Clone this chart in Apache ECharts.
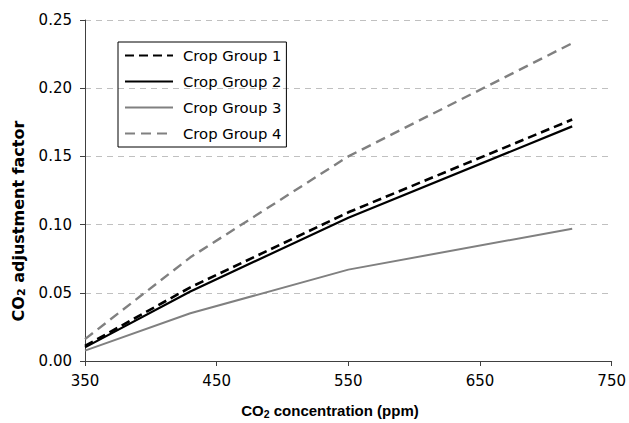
<!DOCTYPE html>
<html>
<head>
<meta charset="utf-8">
<script src="https://cdn.jsdelivr.net/npm/echarts@6/dist/echarts.min.js"></script>
<style>html,body{margin:0;padding:0;background:#fff}#c{width:629px;height:423px}</style>
</head>
<body>
<div id="c"></div>
<script>
// Data
const xValues = [350, 430, 550, 720];
const cropGroup1 = [0.011, 0.054, 0.109, 0.177];
const cropGroup2 = [0.010, 0.051, 0.105, 0.172];
const cropGroup3 = [0.0076, 0.035, 0.067, 0.097];
const cropGroup4 = [0.016, 0.076, 0.150, 0.233];
const seriesNames = ['Crop Group 1', 'Crop Group 2', 'Crop Group 3', 'Crop Group 4'];
const xTicks = [350, 450, 550, 650, 750];
const yTicks = [0, 0.05, 0.10, 0.15, 0.20, 0.25];

const FONT = "'DejaVu Sans', 'Liberation Sans', Arial, sans-serif";
const TITLE_FONT = "'Liberation Sans', Arial, sans-serif";
const zip = (ys) => xValues.map((x, i) => [x, ys[i]]);

const styles = [
  {color: '#000000', width: 2.6, type: [9, 5]},
  {color: '#000000', width: 2.2, type: 'solid'},
  {color: '#808080', width: 2, type: 'solid'},
  {color: '#808080', width: 2.4, type: [10, 6]}
];
const values = [cropGroup1, cropGroup2, cropGroup3, cropGroup4];

const chart = echarts.init(document.getElementById('c'), null, {renderer: 'svg'});
chart.setOption({
  animation: false,
  backgroundColor: '#ffffff',
  textStyle: {fontFamily: FONT},
  grid: {left: 85, right: 16, top: 20, bottom: 62},
  legend: {
    orient: 'vertical',
    left: 118, top: 42,
    data: seriesNames,
    itemWidth: 48, itemHeight: 14, itemGap: 11,
    padding: [6, 5, 6, 6],
    borderColor: '#000', borderWidth: 1,
    itemStyle: {opacity: 0},
    textStyle: {fontSize: 14.8, color: '#000', fontFamily: FONT, padding: [0, 0, 0, 5]}
  },
  xAxis: {
    type: 'value', min: xTicks[0], max: xTicks[xTicks.length - 1], interval: 100,
    axisLine: {show: true, lineStyle: {color: '#404040', width: 1}},
    axisTick: {show: true, length: 5, lineStyle: {color: '#404040'}},
    axisLabel: {fontSize: 15, color: '#000', margin: 12, fontFamily: FONT},
    splitLine: {show: false}
  },
  yAxis: {
    type: 'value', min: yTicks[0], max: yTicks[yTicks.length - 1], interval: 0.05,
    axisLine: {show: true, lineStyle: {color: '#404040', width: 1}},
    axisTick: {show: true, length: 5, lineStyle: {color: '#404040'}},
    axisLabel: {fontSize: 15, color: '#000', margin: 13, fontFamily: FONT, formatter: v => v.toFixed(2)},
    splitLine: {show: true, lineStyle: {color: '#c0c0c0', width: 1, type: [6, 5]}}
  },
  series: seriesNames.map((n, i) => ({
    name: n, type: 'line', data: zip(values[i]),
    symbol: 'none', showSymbol: false, smooth: false,
    color: styles[i].color,
    lineStyle: {color: styles[i].color, width: styles[i].width, type: styles[i].type, cap: 'butt'},
    z: 10 - i
  })),
  graphic: [
    {
      type: 'text', x: 330, y: 410,
      style: {
        text: '{n|CO}{s|2}{n| concentration (ppm)}',
        align: 'center', verticalAlign: 'middle',
        rich: {
          n: {fontSize: 15, fontWeight: 'bold', fontFamily: TITLE_FONT, fill: '#000', lineHeight: 18},
          s: {fontSize: 10.5, fontWeight: 'bold', fontFamily: TITLE_FONT, fill: '#000', lineHeight: 10, verticalAlign: 'bottom'}
        }
      }
    },
    {
      type: 'text', x: 18, y: 221, rotation: Math.PI / 2,
      style: {
        text: '{n|CO}{s|2}{n| adjustment factor}',
        align: 'center', verticalAlign: 'middle',
        rich: {
          n: {fontSize: 16, fontWeight: 'bold', fontFamily: FONT, fill: '#000', lineHeight: 18},
          s: {fontSize: 11, fontWeight: 'bold', fontFamily: FONT, fill: '#000', lineHeight: 10, verticalAlign: 'bottom'}
        }
      }
    }
  ]
});
</script>
</body>
</html>
